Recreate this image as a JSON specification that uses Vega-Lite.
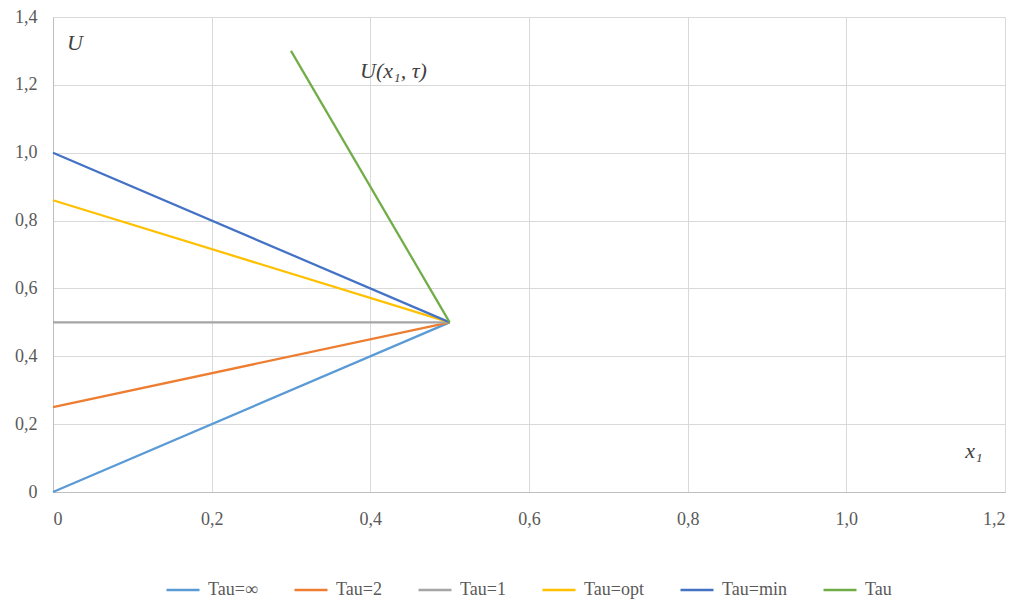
{
  "$schema": "https://vega.github.io/schema/vega-lite/v6.json",
  "width": 952,
  "height": 475,
  "autosize": {"type": "none"},
  "padding": {"left": 53, "top": 17, "right": 20, "bottom": 108},
  "background": "white",
  "config": {
    "view": {"stroke": null}
  },
  "datasets": {
    "lines": [
      {"series": "Tau=∞", "x": 0, "y": 0},
      {"series": "Tau=∞", "x": 0.5, "y": 0.5},
      {"series": "Tau=2", "x": 0, "y": 0.25},
      {"series": "Tau=2", "x": 0.5, "y": 0.5},
      {"series": "Tau=1", "x": 0, "y": 0.5},
      {"series": "Tau=1", "x": 0.5, "y": 0.5},
      {"series": "Tau=opt", "x": 0, "y": 0.86},
      {"series": "Tau=opt", "x": 0.5, "y": 0.5},
      {"series": "Tau=min", "x": 0, "y": 1.0},
      {"series": "Tau=min", "x": 0.5, "y": 0.5},
      {"series": "Tau", "x": 0.3, "y": 1.3},
      {"series": "Tau", "x": 0.5, "y": 0.5}
    ],
    "labels": [
      {"label": "U", "x": 0.0176, "y": 1.303},
      {"label": "U(x₁, τ)", "x": 0.387, "y": 1.22},
      {"label": "x₁", "x": 1.15, "y": 0.1}
    ]
  },
  "layer": [
    {
      "data": {"name": "lines"},
      "mark": {"type": "line", "strokeWidth": 2.25},
      "encoding": {
        "x": {
          "field": "x", "type": "quantitative",
          "scale": {"domain": [0, 1.2], "nice": false},
          "axis": {
            "title": null,
            "values": [0, 0.2, 0.4, 0.6, 0.8, 1.0, 1.2],
            "labelPadding": 18,
            "labelFont": "Liberation Serif",
            "labelFontSize": 18,
            "labelColor": "#595959",
            "gridColor": "#D9D9D9",
            "domainColor": "#BFBFBF",
            "ticks": false,
            "labelExpr": "datum.value == 0 ? '0' : replace(format(datum.value, '.1f'), '.', ',')"
          }
        },
        "y": {
          "field": "y", "type": "quantitative",
          "scale": {"domain": [0, 1.4], "nice": false},
          "axis": {
            "title": null,
            "values": [0, 0.2, 0.4, 0.6, 0.8, 1.0, 1.2, 1.4],
            "labelPadding": 16,
            "labelFont": "Liberation Serif",
            "labelFontSize": 18,
            "labelColor": "#595959",
            "gridColor": "#D9D9D9",
            "domainColor": "#BFBFBF",
            "ticks": false,
            "labelExpr": "datum.value == 0 ? '0' : replace(format(datum.value, '.1f'), '.', ',')"
          }
        },
        "color": {
          "field": "series", "type": "nominal",
          "scale": {
            "domain": ["Tau=∞", "Tau=2", "Tau=1", "Tau=opt", "Tau=min", "Tau"],
            "range": ["#5B9BD5", "#ED7D31", "#A5A5A5", "#FFC000", "#4472C4", "#70AD47"]
          },
          "legend": {
            "title": null,
            "orient": "none",
            "direction": "horizontal",
            "legendX": 112,
            "legendY": 555,
            "symbolType": "stroke",
            "symbolSize": 1089,
            "symbolStrokeWidth": 2.5,
            "labelFont": "Liberation Serif",
            "labelFontSize": 18,
            "labelColor": "#595959",
            "labelOffset": 7,
            "columnPadding": 31
          }
        },
        "detail": {"field": "series"}
      }
    },
    {
      "data": {"name": "labels"},
      "mark": {
        "type": "text",
        "align": "left",
        "baseline": "alphabetic",
        "font": "Liberation Serif",
        "fontStyle": "italic",
        "fontSize": 22,
        "color": "#404040"
      },
      "encoding": {
        "x": {"field": "x", "type": "quantitative"},
        "y": {"field": "y", "type": "quantitative"},
        "text": {"field": "label"}
      }
    }
  ]
}
